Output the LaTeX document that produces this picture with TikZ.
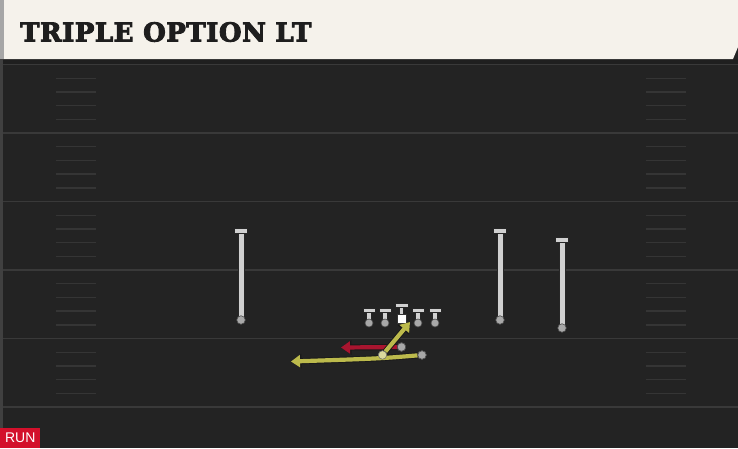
\documentclass[tikz,border=0pt]{standalone}
\usepackage{fontspec}
\setmainfont{DejaVu Serif}
\newfontfamily\titlefont[UprightFont={* Bold}, UprightFeatures={FakeBold=3.5}, LetterSpace=2]{DejaVu Serif}
\newfontfamily\runfont{Liberation Sans}
\usetikzlibrary{arrows.meta}
\definecolor{fieldbg}{HTML}{232323}
\definecolor{yardline}{HTML}{393939}
\definecolor{hashc}{HTML}{353535}
\definecolor{headbg}{HTML}{F5F2EB}
\definecolor{titlec}{HTML}{1E1E1E}
\definecolor{playerc}{HTML}{D0D0D0}
\definecolor{dotc}{HTML}{A8A8A8}
\definecolor{routey}{HTML}{BCBA4C}
\definecolor{router}{HTML}{A8152F}
\definecolor{runred}{HTML}{D3102B}
\tikzset{
  yard/.style={draw=yardline, line width=1.8pt},
  hashmark/.style={draw=hashc, line width=1.4pt},
  stemline/.style={line width=5pt, draw=playerc, preaction={draw=black!85, line width=7pt}},
  olstem/.style={line width=3.8pt, draw=playerc, preaction={draw=black!85, line width=5.6pt}},
  barline/.style={fill=playerc, draw=black!85, line width=0.7pt},
  pdot/.style={circle, fill=dotc, draw=black!70, line width=0.6pt, inner sep=0pt, minimum size=8.5pt},
  qbdot/.style={circle, fill=routey!55!white, draw=black!60, line width=0.5pt, inner sep=0pt, minimum size=8.5pt},
  yroute/.style={draw=routey, line width=4.2pt, -{Triangle[length=9pt,width=12pt]}, preaction={draw=black!90, line width=6pt, -{Triangle[length=10.5pt,width=14pt]}}},
  rroute/.style={draw=router, line width=4.2pt, -{Triangle[length=9pt,width=12pt]}, preaction={draw=black!90, line width=6pt, -{Triangle[length=10.5pt,width=14pt]}}},
}
\begin{document}
\begin{tikzpicture}[x=1pt,y=-1pt]
\useasboundingbox (0,0) rectangle (738,448);
% field
\fill[fieldbg] (0,0) rectangle (738,448);
\fill[black!88] (0,59) rectangle (738,64);
\fill[black!75] (0,0) rectangle (3,448);
% yard lines
\foreach \yy in {64.5,133,201.5,270,338.5,407}{
  \draw[yard] (3,\yy) -- (738,\yy);
}
% hash marks
\foreach \base in {64.5,133,201.5,270,338.5}{
  \foreach \k in {1,2,3,4}{
    \draw[hashmark] (56,\base+13.7*\k) -- (96,\base+13.7*\k);
    \draw[hashmark] (646,\base+13.7*\k) -- (686,\base+13.7*\k);
  }
}
% header
\fill[headbg] (3,0) -- (738,0) -- (738,47) -- (733,59) -- (3,59) -- cycle;
\fill[black!35] (0,0) rectangle (4,59);
\node[anchor=west, inner sep=0pt, text=titlec, font=\titlefont\fontsize{26}{26}\selectfont] (title) at (20,32) {TRIPLE OPTION LT};
% run label
\node[fill=runred, text=white, font=\runfont\fontsize{14}{14}\selectfont, inner sep=0pt, minimum height=20pt, minimum width=40pt, anchor=south west] (run) at (0,448) {RUN};
% receivers
\foreach \nm/\xx/\ty/\dy in {wrl/241/231/320, wrr/500/231/320, slot/562/240/328}{
  \coordinate (\nm top) at (\xx,\ty);
  \coordinate (\nm) at (\xx,\dy);
  \draw[stemline] (\nm top) -- (\nm);
  \fill[barline] (\xx-6.5,\ty-2.5) rectangle (\xx+6.5,\ty+2.5);
  \node[pdot] (\nm dot) at (\nm) {};
}
% linemen
\foreach \nm/\xx in {lt/369, lg/385, rg/418, rt/435}{
  \coordinate (\nm top) at (\xx,310);
  \coordinate (\nm) at (\xx,323);
  \draw[olstem] (\nm top) -- (\nm);
  \fill[barline] (\xx-6,308) rectangle (\xx+6,312.5);
  \node[pdot, minimum size=8pt] (\nm dot) at (\nm) {};
}
% center
\coordinate (ctop) at (401.5,305);
\coordinate (c) at (401.5,316);
\draw[olstem] (ctop) -- (c);
\fill[barline] (395,303) rectangle (408,307.5);
\node[draw=black!80, fill=white, line width=0.6pt, minimum width=9pt, minimum height=9pt, inner sep=0pt] (center) at (401.5,318.5) {};
% backs
\node[qbdot] (qb) at (382.5,355) {};
\node[pdot] (fb) at (401.5,347) {};
\node[pdot] (hb) at (422,355) {};
% routes
\coordinate (qbend) at (410,322);
\coordinate (fbend) at (341,347.5);
\coordinate (hbend) at (291,361.5);
\draw[rroute] (fb) -- (fbend);
\draw[yroute] (hb) .. controls (380,358.5) .. (hbend);
\draw[yroute] (qb) -- (qbend);
\node[qbdot] at (382.5,355) {};
\node[pdot] at (422,355) {};
\node[pdot] at (401.5,347) {};
\end{tikzpicture}
\end{document}
